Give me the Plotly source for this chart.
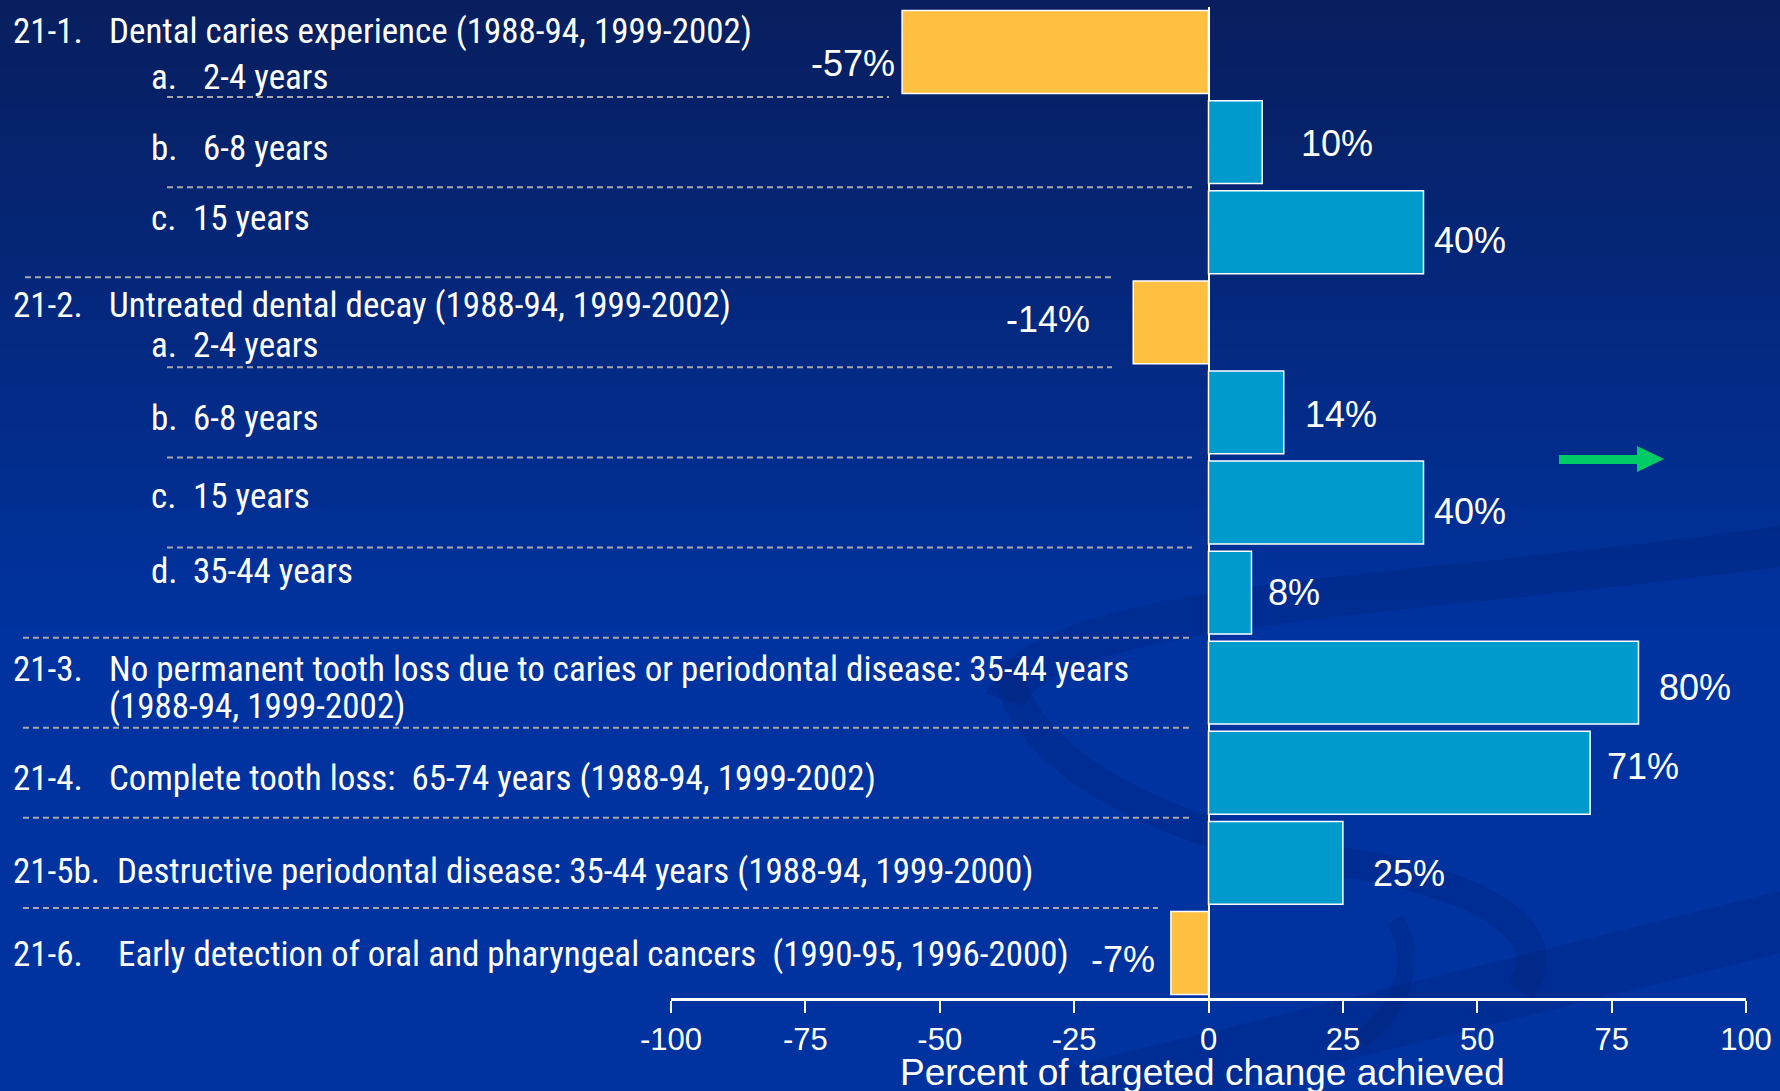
import plotly.graph_objects as go

# ---------------- data ----------------
categories = ["21-1a", "21-1b", "21-1c", "21-2a", "21-2b", "21-2c", "21-2d",
              "21-3", "21-4", "21-5b", "21-6"]
values = [-57, 10, 40, -14, 14, 40, 8, 80, 71, 25, -7]
tick_values = [-100, -75, -50, -25, 0, 25, 50, 75, 100]
tick_labels = ["-100", "-75", "-50", "-25", "0", "25", "50", "75", "100"]

row_prefixes = ["21-1.", "a.", "b.", "c.", "21-2.", "a.", "b.", "c.", "d.",
                "21-3.", "", "21-4.", "21-5b.", "21-6."]
row_texts = ["Dental caries experience (1988-94, 1999-2002)", "2-4 years", "6-8 years",
             "15 years", "Untreated dental decay (1988-94, 1999-2002)", "2-4 years",
             "6-8 years", "15 years", "35-44 years",
             "No permanent tooth loss due to caries or periodontal disease: 35-44 years",
             "(1988-94, 1999-2002)",
             "Complete tooth loss:  65-74 years (1988-94, 1999-2002)",
             "Destructive periodontal disease: 35-44 years (1988-94, 1999-2000)",
             "Early detection of oral and pharyngeal cancers  (1990-95, 1996-2000)"]
axis_title = "Percent of targeted change achieved"

# ---------------- layout geometry (pixels) ----------------
W, H = 1780, 1091
L, R, T, B = 671, 34, 7, 93
PW, PH = W - L - R, H - T - B

def px(x):
    return (x - L) / PW

def py(y):
    return 1 - (y - T) / PH

# row label placement (styling)
row_prefix_x = [11, 149, 149, 149, 11, 149, 149, 149, 149, 11, 11, 11, 11, 11]
row_text_x = [107, 201, 201, 191, 107, 191, 191, 191, 191, 107, 107, 107, 115, 116]
row_y = [32, 77, 148, 218, 305, 345, 418, 496, 571, 669, 706, 778, 871, 954]

# separators between rows (styling)
sep_x0 = [167, 167, 25, 167, 167, 167, 23, 23, 23, 23]
sep_x1 = [889, 1192, 1112, 1112, 1192, 1192, 1192, 1192, 1192, 1158]

# value label offsets in pixels (styling)
lab_dx = [-5, 37, 8, -41, 19, 8, 14, 18, 15, 28, -14]
lab_dy = [-11, -1, -8, 3, -2, -9, 0, -5, 6, -11, -7]

ORANGE = "#FFBF40"
BLUE = "#009ACD"
WHITE = "white"
NARROW = "Liberation Sans Narrow, Arial Narrow, Roboto Condensed, sans-serif"
REG = "Liberation Sans, Arial, sans-serif"

fig = go.Figure()
fig.add_trace(go.Bar(
    x=values, y=list(range(len(values))), orientation="h", width=0.92,
    marker=dict(color=[ORANGE if v < 0 else BLUE for v in values],
                line=dict(color=WHITE, width=1.5)),
    hoverinfo="x", showlegend=False,
))

shapes = []
# background gradient
N = 48
top_c = (8, 30, 94)
bot_c = (0, 51, 160)
grad_end = 640
for i in range(N):
    y0 = grad_end * i / N
    y1 = grad_end * (i + 1) / N + 1
    t = (i + 0.5) / N
    c = tuple(int(round(top_c[k] + (bot_c[k] - top_c[k]) * t)) for k in range(3))
    shapes.append(dict(type="rect", xref="paper", yref="paper", layer="below",
                       x0=px(-5), x1=px(W + 5), y0=py(y0), y1=py(y1),
                       fillcolor="rgb(%d,%d,%d)" % c, line=dict(width=0)))

def P(x, y):
    return "%f,%f" % (px(x), py(y))

def pth(pts):
    s = "M " + P(*pts[0]) + " "
    for a in pts[1:]:
        s += "L " + P(*a) + " "
    return s + "Z"

# decorative swooshes (soft darker bands)
sw = "rgba(0,28,105,0.22)"
curves = [
    ("M " + P(1005, 700) + " C " + P(1040, 600) + " " + P(1400, 600) + " " + P(1790, 545), 40),
    ("M " + P(1005, 660) + " C " + P(1020, 760) + " " + P(1150, 830) + " " + P(1330, 860)
     + " C " + P(1500, 885) + " " + P(1560, 940) + " " + P(1520, 990), 30),
    ("M " + P(1060, 1100) + " L " + P(1790, 920), 60),
    ("M " + P(1395, 920) + " C " + P(1420, 960) + " " + P(1400, 1010) + " " + P(1360, 1040), 18),
]
for d, w in curves:
    shapes.append(dict(type="path", xref="paper", yref="paper", layer="below",
                       path=d, line=dict(color=sw, width=w)))

# separators
for i in range(len(sep_x0)):
    yy = i + 0.5
    shapes.append(dict(type="line", xref="paper", yref="y",
                       x0=px(sep_x0[i]), x1=px(sep_x1[i]), y0=yy, y1=yy,
                       line=dict(color="#A8A8A8", width=2, dash="6px,4px")))

# green arrow
arrow = [(1559, 455), (1637, 455), (1637, 446), (1664, 459), (1637, 472),
         (1637, 464), (1559, 464)]
shapes.append(dict(type="path", xref="paper", yref="paper",
                   path=pth(arrow), fillcolor="#00CC66", line=dict(width=0)))

annotations = []
for i in range(len(row_texts)):
    if row_prefixes[i]:
        annotations.append(dict(text=row_prefixes[i], xref="paper", yref="paper",
                                x=px(row_prefix_x[i]), y=py(row_y[i]),
                                xanchor="left", yanchor="middle", showarrow=False,
                                font=dict(family=NARROW, size=35, color=WHITE)))
    annotations.append(dict(text=row_texts[i], xref="paper", yref="paper",
                            x=px(row_text_x[i]), y=py(row_y[i]),
                            xanchor="left", yanchor="middle", showarrow=False,
                            font=dict(family=NARROW, size=35, color=WHITE)))

for i, v in enumerate(values):
    annotations.append(dict(text="%d%%" % v, x=v, y=i, xref="x", yref="y",
                            xanchor="right" if v < 0 else "left", yanchor="middle",
                            xshift=lab_dx[i], yshift=lab_dy[i], showarrow=False,
                            font=dict(family=REG, size=36, color=WHITE)))

annotations.append(dict(text=axis_title, xref="paper", yref="paper",
                        x=px(1202), y=py(1072), xanchor="center", yanchor="middle",
                        showarrow=False, font=dict(family=REG, size=37, color=WHITE)))

fig.update_layout(
    width=W, height=H,
    margin=dict(l=L, r=R, t=T, b=B, pad=0),
    paper_bgcolor="rgb(0,51,160)",
    plot_bgcolor="rgba(0,0,0,0)",
    shapes=shapes, annotations=annotations,
    bargap=0.08, showlegend=False,
    xaxis=dict(range=[-100, 100], tickvals=tick_values, ticktext=tick_labels,
               showgrid=False, zeroline=True, zerolinecolor=WHITE, zerolinewidth=2,
               showline=True, linecolor=WHITE, linewidth=3,
               ticks="outside", ticklen=12, tickwidth=2, tickcolor=WHITE,
               tickfont=dict(family=REG, size=31, color=WHITE), fixedrange=True),
    yaxis=dict(range=[len(values) - 0.5, -0.5], showgrid=False, zeroline=False,
               showticklabels=False, showline=False, ticks="", fixedrange=True),
)

fig.write_html("out.html", config={"displayModeBar": False},
               post_script="document.body.style.margin='0';document.body.style.overflow='hidden';")
